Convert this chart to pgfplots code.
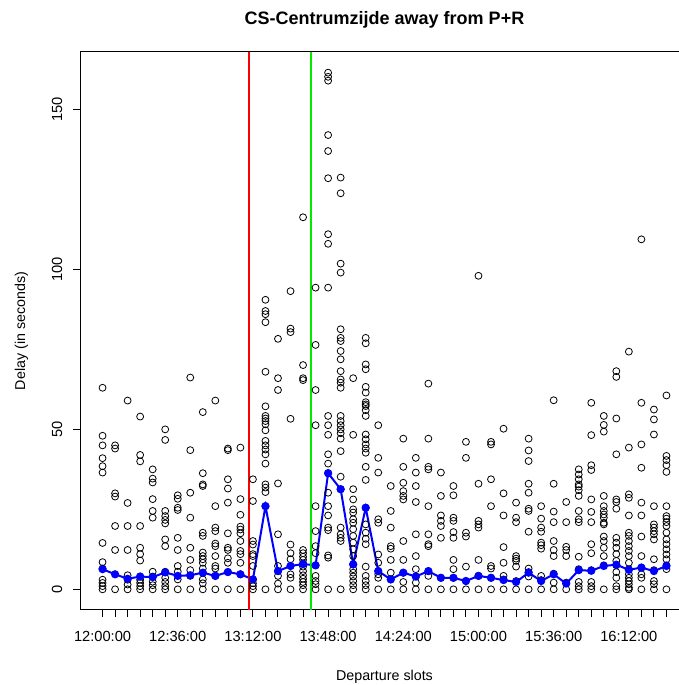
\documentclass[border=0pt]{standalone}
\usepackage{fontspec}
\setmainfont{Liberation Sans}
\usepackage{pgfplots}
\usepackage{pgfplotstable}
\pgfplotsset{compat=1.18}

\pgfplotstableread{
x y
0 63
0 48
0 45
0 41
0 38.5
0 36.5
0 14.5
0 8.5
0 6.5
0 3
0 2
0 1
0 0
1 45
1 44
1 30
1 29
1 19.8
1 12.3
1 0
2 59
2 27
2 19.8
2 12.3
2 4.4
2 3
2 1.5
2 0
3 54
3 42
3 40
3 19.8
3 13
3 11
3 9
3 4
3 3
3 2
3 1
3 0
4 37.5
4 34.6
4 33.4
4 28.2
4 24.5
4 22.4
4 5.5
4 4
4 2.4
4 1.3
4 0
5 50
5 46.7
5 24.5
5 22.9
5 21.7
5 20.6
5 15.6
5 13.5
5 5.5
5 3.6
5 2.3
5 1
5 0
6 29.4
6 28.3
6 25.5
6 24.8
6 16.1
6 12.3
6 7.3
6 5.5
6 3.1
6 0
7 66.2
7 43.5
7 30.2
7 22.4
7 13
7 9.2
7 6
7 4.2
7 0
8 55.4
8 36.3
8 32.8
8 32.3
8 17.7
8 16.7
8 11.5
8 10.4
8 9.4
8 8.3
8 6.5
8 5.2
8 3.1
8 1.9
8 0
9 59
9 26
9 19.3
9 18.2
9 14.3
9 13.5
9 10.4
9 7.3
9 6.5
9 4.2
9 0
10 44
10 43.5
10 34.4
10 31.5
10 27.1
10 17.5
10 13
10 12.3
10 9.7
10 8.3
10 5.4
10 0
11 44.3
11 28.2
11 23.3
11 19.6
11 18.7
11 17.5
11 15.1
11 12
11 11
11 8.3
11 4.7
11 0
12 34.4
12 27.6
12 15.1
12 14
12 11
12 10.4
12 7.3
12 3.1
12 1.9
12 1
12 0
13 90.5
13 87
13 86
13 83.5
13 68
13 57.2
13 54.2
13 53.4
13 52.6
13 51.6
13 49.7
13 46.4
13 45
13 43.7
13 42.2
13 39.3
13 32.8
13 31.8
13 30.4
13 26
13 0
14 78.3
14 66
14 62.3
14 33.1
14 17.2
14 7.3
14 5.7
14 4.2
14 1.8
14 0
15 93.2
15 81.5
15 80.4
15 53.3
15 14
15 11.3
15 9.4
15 7.3
15 4.7
15 3.6
15 0
16 116.3
16 70.1
16 66
16 65.4
16 12.3
16 11.3
16 10.2
16 9.2
16 8.1
16 7.1
16 5.7
16 4.4
16 3.3
16 2.3
16 1.3
16 0
17 94.3
17 76.4
17 62.3
17 51.3
17 26
17 18.2
17 13.5
17 11.3
17 7.5
17 4.2
17 2.6
17 1.6
17 0
18 161.5
18 160.2
18 159
18 142
18 137
18 128.5
18 111
18 108
18 94.3
18 54.2
18 51.3
18 48.3
18 42.2
18 39.3
18 36.3
18 30.2
18 26
18 23.1
18 19.3
18 18.5
18 10.6
18 9.9
18 0
19 128.7
19 123.8
19 101.8
19 99
19 81.3
19 78.6
19 77.6
19 74.5
19 71.9
19 68.2
19 65.6
19 64.6
19 63
19 54.2
19 52.6
19 51.3
19 50
19 48.8
19 47.1
19 43.2
19 35.2
19 31.3
19 19.3
19 17.2
19 16.1
19 15.1
19 0
20 66
20 48.3
20 31.3
20 28.1
20 25
20 24
20 21.9
20 20.8
20 18.8
20 16.7
20 14.6
20 12.5
20 10.4
20 7.8
20 6.3
20 5.2
20 4
20 2.6
20 1.3
20 0
21 78.6
21 76.9
21 70.3
21 68.8
21 63.3
21 61.5
21 58.5
21 57.8
21 57.3
21 56
21 54.2
21 48.4
21 46.9
21 45.3
21 44
21 42.7
21 38.3
21 34.2
21 25.5
21 20.3
21 17.7
21 15.8
21 14.1
21 7.1
21 4.2
21 2.6
21 1.3
21 0
22 51.3
22 41.1
22 36.5
22 21.9
22 20.8
22 10.9
22 8.3
22 5.7
22 4.7
22 3.6
22 0
23 32.3
23 24.5
23 19.3
23 13.5
23 12.7
23 9.2
23 5.2
23 3.1
23 0
24 47.1
24 38.3
24 33.3
24 30.7
24 29.2
24 28.1
24 15.1
24 9.2
24 5.2
24 2.3
24 0
25 41.1
25 36.5
25 32.3
25 27.3
25 17.2
25 10.4
25 6.3
25 4
25 2.1
25 0
26 64.3
26 47.1
26 38.3
26 37.5
26 26
26 17.2
26 14.1
26 13.5
26 5.7
26 4.2
26 0
27 36.5
27 29.2
27 23.1
27 21.4
27 19.8
27 16.1
27 3.6
27 0
28 32.3
28 29.4
28 22.4
28 21.4
28 17.9
28 16.1
28 9.2
28 6.3
28 3.6
28 0
29 46.1
29 41.1
29 17.7
29 16.5
29 7.1
29 2.6
29 0
30 98
30 33
30 21.4
30 20.3
30 19.3
30 9.2
30 4.2
30 0
31 46.1
31 45.3
31 34.4
31 26
31 7.3
31 6.5
31 3.6
31 0
32 50.2
32 30
32 23.1
32 13.2
32 8.3
32 4.2
32 3.1
32 0
33 27.1
33 22.4
33 21
33 10.4
33 9.6
33 8.9
33 7.1
33 2.6
33 0
34 47.1
34 43.4
34 40.1
34 33
34 30.2
34 25.2
34 24.5
34 18
34 6.5
34 5.4
34 4
34 0
35 26
35 22.1
35 19.3
35 18
35 14.6
35 13.8
35 12.7
35 4.2
35 2.9
35 0
36 59.1
36 33
36 24.3
36 21
36 15.1
36 12.3
36 10.4
36 4.9
36 2.1
36 0
37 27.3
37 21
37 13.3
37 12.3
37 10.4
37 2.1
37 0
38 37.5
38 35.9
38 34.4
38 32.8
38 32.1
38 31
38 29.2
38 24.5
38 21.9
38 21
38 10.2
38 6.3
38 2.3
38 1
38 0
39 58.3
39 48.2
39 38.8
39 37.3
39 28.1
39 24.2
39 21
39 14.1
39 11.3
39 6
39 2.3
39 1
39 0
40 54.2
40 51.4
40 49.3
40 29.2
40 26
40 24.5
40 23.4
40 22.4
40 20.8
40 20.3
40 16.5
40 15.1
40 13
40 10.4
40 7.5
40 0
41 68.2
41 66.4
41 53.4
41 42.2
41 28.1
41 27.3
41 25.2
41 16.1
41 14.6
41 13
41 11
41 8.9
41 7.5
41 5.4
41 3.6
41 1
41 0
42 74.3
42 44.3
42 29.7
42 28.6
42 23.1
42 17.7
42 16.7
42 15.1
42 13.5
42 12
42 10.4
42 8.3
42 6.3
42 4.7
42 3.6
42 2.6
42 1.6
42 0.5
42 0
43 109.4
43 58.3
43 45.3
43 38
43 27.1
43 23.1
43 16.5
43 10.4
43 6.8
43 4.7
43 3.6
43 0
44 56.2
44 53.1
44 48.4
44 26
44 20.3
44 19.3
44 18.2
44 17.2
44 15.6
44 9.4
44 6
44 2.6
44 1.6
44 0
45 60.6
45 41.7
45 40.4
45 38.8
45 36.7
45 26
45 22.9
45 22.1
45 21
45 19.8
45 17.7
45 15.6
45 14.1
45 12.5
45 10.9
45 9.4
45 7.5
45 6.3
45 0
}\scatterdata

\pgfplotstableread{
x y
0 6.3
1 4.7
2 3.3
3 4
4 3.8
5 5.3
6 4.2
7 4.4
8 5.2
9 4.2
10 5.4
11 4.7
12 3.1
13 26
14 5.7
15 7.3
16 7.9
17 7.5
18 36.3
19 31.3
20 7.8
21 25.5
22 5.7
23 3.1
24 5.2
25 4
26 5.7
27 3.6
28 3.6
29 2.6
30 4.2
31 3.6
32 2.9
33 2.3
34 5.2
35 2.6
36 4.7
37 1.8
38 6
39 5.8
40 7.3
41 7.7
42 6.1
43 6.8
44 5.7
45 7.3
}\bluedata

\begin{document}
\begin{tikzpicture}
\begin{axis}[
  at={(60pt,56.25pt)}, anchor=south west,
  scale only axis, width=456.75pt, height=418.5pt,
  xmin=-1.8, xmax=46.8, ymin=-6.46, ymax=167.96,
  axis line style={line width=0.75pt},
  tick style={black, line width=0.75pt},
  tick align=outside, major tick length=5.25pt, minor tick length=5.25pt,
  xtick={0,6,...,42}, minor xtick={0,...,45},
  xticklabels={12:00:00,12:36:00,13:12:00,13:48:00,14:24:00,15:00:00,15:36:00,16:12:00},
  ytick={0,50,100,150},
  xtick pos=left, ytick pos=left,
  /pgf/number format/assume math mode=true,
  ticklabel style={font=\fontsize{11}{13}\selectfont},
  xticklabel style={anchor=base},
  xticklabel shift=18pt,
  yticklabel style={rotate=90, anchor=base},
  yticklabel shift=8.25pt,
  title={CS-Centrumzijde away from P+R},
  title style={at={(axis description cs:0.5,1.035)}, anchor=base, font=\bfseries\fontsize{13.5}{16}\selectfont},
  xlabel={Departure slots},
  xlabel style={at={(axis description cs:0.5,-0.1272)}, anchor=base, font=\fontsize{10.7}{13}\selectfont},
  ylabel={Delay (in seconds)},
  ylabel style={at={(axis description cs:-0.0903,0.5)}, anchor=base, rotate=0, font=\fontsize{10.7}{13}\selectfont},
]
\addplot[only marks, mark=o, mark size=2.6pt, mark options={line width=0.6pt, draw=black}] table {\scatterdata};
\addplot[blue, line width=1.5pt, mark=*, mark size=2.3pt, mark options={fill=blue, draw=blue}] table {\bluedata};
\addplot[red, line width=1.5pt] coordinates {(11.667,-6.46) (11.667,167.96)};
\addplot[color={rgb,255:red,0;green,235;blue,0}, line width=1.5pt] coordinates {(16.667,-6.46) (16.667,167.96)};
\end{axis}
\pgfresetboundingbox
\useasboundingbox (0,0) rectangle (508.5pt,513.75pt);
\end{tikzpicture}
\end{document}
